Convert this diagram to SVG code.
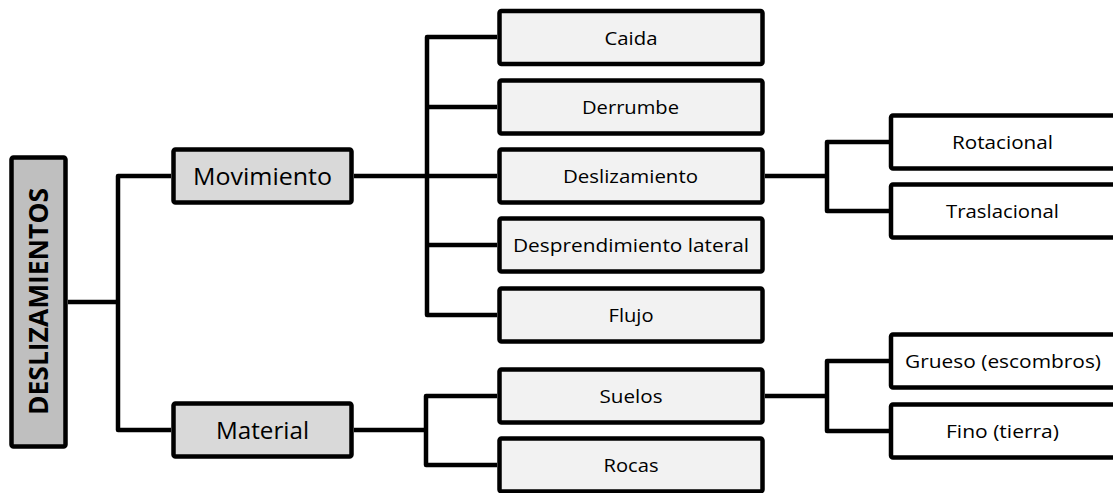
<svg xmlns="http://www.w3.org/2000/svg" width="1113" height="493" viewBox="0 0 1113 493">
<style>
.box{stroke:#000;stroke-width:4.5;stroke-linejoin:round}
.root{fill:#bfbfbf}
.l1{fill:#d9d9d9}
.l2{fill:#f2f2f2}
.l3{fill:#ffffff}
.t{font-family:"Open Sans","Noto Sans",sans-serif;fill:#000;text-anchor:middle}
.t1{font-size:24px}
.t2{font-size:19px}
.tr{font-size:26px;font-weight:bold}
.c{fill:none;stroke:#000;stroke-width:4.5;stroke-linejoin:round}
</style>
<rect width="1113" height="493" fill="#fff"/>
<g id="connectors">
<path class="c" d="M68,302 H118"/>
<path class="c" d="M171,176 H118 V430 H171"/>
<path class="c" d="M354,176 H427"/>
<path class="c" d="M497,37 H427 V315 H497 M427,107 H497 M427,176 H497 M427,245 H497"/>
<path class="c" d="M354,430 H426"/>
<path class="c" d="M497,396 H426 V465 H497"/>
<path class="c" d="M765,176 H827"/>
<path class="c" d="M889,142 H827 V211 H889"/>
<path class="c" d="M765,396 H827"/>
<path class="c" d="M889,361 H827 V431 H889"/>
</g>
<g id="deslizamientos">
<rect class="box root" x="11.5" y="157.5" width="54" height="289" rx="2"/>
<text class="t tr" transform="translate(48,301.5) rotate(-90)" textLength="227" lengthAdjust="spacingAndGlyphs">DESLIZAMIENTOS</text>
</g>
<g id="movimiento">
<rect class="box l1" x="173.5" y="149.5" width="178" height="53" rx="2"/>
<text class="t t1" x="262.5" y="184.5" textLength="139" lengthAdjust="spacingAndGlyphs">Movimiento</text>
</g>
<g id="material">
<rect class="box l1" x="173.5" y="403.5" width="178" height="53" rx="2"/>
<text class="t t1" x="262.5" y="438.5" textLength="93" lengthAdjust="spacingAndGlyphs">Material</text>
</g>
<g id="caida">
<rect class="box l2" x="499.5" y="11" width="263" height="53" rx="2"/>
<text class="t t2" x="631" y="44.5" textLength="53" lengthAdjust="spacingAndGlyphs">Caida</text>
</g>
<g id="derrumbe">
<rect class="box l2" x="499.5" y="80.5" width="263" height="53" rx="2"/>
<text class="t t2" x="630.5" y="114" textLength="97" lengthAdjust="spacingAndGlyphs">Derrumbe</text>
</g>
<g id="deslizamiento">
<rect class="box l2" x="499.5" y="149.5" width="263" height="53" rx="2"/>
<text class="t t2" x="630.5" y="183" textLength="135" lengthAdjust="spacingAndGlyphs">Deslizamiento</text>
</g>
<g id="desprendimiento">
<rect class="box l2" x="499.5" y="218.5" width="263" height="53" rx="2"/>
<text class="t t2" x="631" y="252" textLength="236" lengthAdjust="spacingAndGlyphs">Desprendimiento lateral</text>
</g>
<g id="flujo">
<rect class="box l2" x="499.5" y="288.5" width="263" height="53" rx="2"/>
<text class="t t2" x="631" y="322" textLength="45" lengthAdjust="spacingAndGlyphs">Flujo</text>
</g>
<g id="suelos">
<rect class="box l2" x="499.5" y="369.5" width="263" height="53" rx="2"/>
<text class="t t2" x="631" y="403" textLength="63" lengthAdjust="spacingAndGlyphs">Suelos</text>
</g>
<g id="rocas">
<rect class="box l2" x="499.5" y="438.5" width="263" height="53" rx="2"/>
<text class="t t2" x="631" y="472" textLength="55" lengthAdjust="spacingAndGlyphs">Rocas</text>
</g>
<g id="rotacional">
<rect class="box l3" x="891" y="115.5" width="230" height="53" rx="2"/>
<text class="t t2" x="1002.5" y="149" textLength="101" lengthAdjust="spacingAndGlyphs">Rotacional</text>
</g>
<g id="traslacional">
<rect class="box l3" x="891" y="184.5" width="230" height="53" rx="2"/>
<text class="t t2" x="1002.5" y="218" textLength="113" lengthAdjust="spacingAndGlyphs">Traslacional</text>
</g>
<g id="grueso">
<rect class="box l3" x="891" y="334.5" width="230" height="53" rx="2"/>
<text class="t t2" x="1003" y="368" textLength="196" lengthAdjust="spacingAndGlyphs">Grueso (escombros)</text>
</g>
<g id="fino">
<rect class="box l3" x="891" y="404.5" width="230" height="53" rx="2"/>
<text class="t t2" x="1002.5" y="438" textLength="113" lengthAdjust="spacingAndGlyphs">Fino (tierra)</text>
</g>
</svg>
